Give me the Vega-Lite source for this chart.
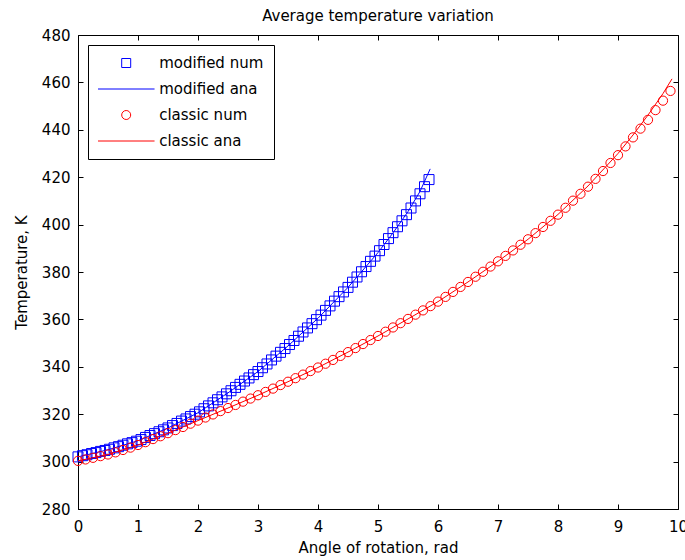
{
  "$schema": "https://vega.github.io/schema/vega-lite/v6.json",
  "width": 600,
  "height": 474,
  "autosize": {"type": "none"},
  "padding": {"left": 78, "top": 35, "right": 7, "bottom": 51},
  "background": "white",
  "title": {"text": "Average temperature variation", "font": "DejaVu Sans", "fontSize": 15, "fontWeight": "normal", "color": "black", "offset": 4},
  "config": {
    "view": {"stroke": null},
    "axis": {"domainColor": "black", "tickColor": "black", "tickSize": -5, "labelFont": "DejaVu Sans", "labelFontSize": 15, "labelColor": "black", "titleFont": "DejaVu Sans", "titleFontSize": 15, "titleFontWeight": "normal", "titleColor": "black", "grid": false, "labelFlush": false, "labelOverlap": false, "domainWidth": 1, "tickWidth": 1},
    "legend": {"orient": "top-left", "offset": 10, "strokeColor": "black", "fillColor": "white", "padding": 10, "symbolSize": 81, "symbolOffset": 20.7, "labelOffset": 25.5, "clipHeight": 16, "rowPadding": 10, "labelFont": "DejaVu Sans", "labelFontSize": 15, "labelColor": "black", "symbolStrokeWidth": 1}
  },
  "datasets": {
    "mod_num": [
      {"a":0,"t":302.0},{"a":0.075,"t":302.5},{"a":0.15,"t":302.9},{"a":0.225,"t":303.4},{"a":0.3,"t":303.8},{"a":0.375,"t":304.3},{"a":0.45,"t":304.7},{"a":0.525,"t":305.2},{"a":0.6,"t":305.8},{"a":0.675,"t":306.3},{"a":0.75,"t":306.9},{"a":0.825,"t":307.5},{"a":0.9,"t":308.0},{"a":0.975,"t":308.6},{"a":1.05,"t":309.3},{"a":1.125,"t":310.2},{"a":1.2,"t":311.0},{"a":1.275,"t":311.8},{"a":1.35,"t":312.6},{"a":1.425,"t":313.4},{"a":1.5,"t":314.2},{"a":1.575,"t":315.2},{"a":1.65,"t":316.1},{"a":1.725,"t":317.1},{"a":1.8,"t":318.0},{"a":1.875,"t":319.0},{"a":1.95,"t":320.0},{"a":2.025,"t":321.0},{"a":2.1,"t":322.3},{"a":2.175,"t":323.5},{"a":2.25,"t":324.8},{"a":2.325,"t":326.1},{"a":2.4,"t":327.3},{"a":2.475,"t":328.6},{"a":2.55,"t":329.9},{"a":2.625,"t":331.3},{"a":2.7,"t":332.6},{"a":2.775,"t":334.0},{"a":2.85,"t":335.3},{"a":2.925,"t":336.7},{"a":3.0,"t":338.0},{"a":3.075,"t":339.6},{"a":3.15,"t":341.2},{"a":3.225,"t":342.9},{"a":3.3,"t":344.5},{"a":3.375,"t":346.1},{"a":3.45,"t":347.7},{"a":3.525,"t":349.4},{"a":3.6,"t":351.1},{"a":3.675,"t":352.9},{"a":3.75,"t":354.7},{"a":3.825,"t":356.4},{"a":3.9,"t":358.2},{"a":3.975,"t":359.9},{"a":4.05,"t":361.8},{"a":4.125,"t":363.8},{"a":4.2,"t":365.7},{"a":4.275,"t":367.7},{"a":4.35,"t":369.6},{"a":4.425,"t":371.6},{"a":4.5,"t":373.5},{"a":4.575,"t":375.7},{"a":4.65,"t":377.9},{"a":4.725,"t":380.1},{"a":4.8,"t":382.3},{"a":4.875,"t":384.5},{"a":4.95,"t":386.7},{"a":5.025,"t":389.0},{"a":5.1,"t":391.6},{"a":5.175,"t":394.1},{"a":5.25,"t":396.6},{"a":5.325,"t":399.1},{"a":5.4,"t":401.6},{"a":5.475,"t":404.2},{"a":5.55,"t":407.0},{"a":5.625,"t":410.0},{"a":5.7,"t":413.0},{"a":5.775,"t":416.0},{"a":5.85,"t":419.0}
    ],
    "mod_ana": [
      {"a":0,"t":302.0},{"a":0.5,"t":305.0},{"a":1,"t":308.8},{"a":1.5,"t":314.2},{"a":2,"t":320.6},{"a":2.5,"t":329.0},{"a":3,"t":338.0},{"a":3.5,"t":348.8},{"a":4,"t":360.5},{"a":4.5,"t":373.5},{"a":5,"t":388.2},{"a":5.25,"t":396.5},{"a":5.5,"t":405.5},{"a":5.7,"t":414.0},{"a":5.87,"t":423.5}
    ],
    "cls_num": [
      {"a":0,"t":300.3},{"a":0.125,"t":300.9},{"a":0.25,"t":301.6},{"a":0.375,"t":302.3},{"a":0.5,"t":303.0},{"a":0.625,"t":303.9},{"a":0.75,"t":304.9},{"a":0.875,"t":305.9},{"a":1.0,"t":307.0},{"a":1.125,"t":308.2},{"a":1.25,"t":309.5},{"a":1.375,"t":310.7},{"a":1.5,"t":312.0},{"a":1.625,"t":313.3},{"a":1.75,"t":314.6},{"a":1.875,"t":316.0},{"a":2.0,"t":317.3},{"a":2.125,"t":318.6},{"a":2.25,"t":319.9},{"a":2.375,"t":321.3},{"a":2.5,"t":322.6},{"a":2.625,"t":323.9},{"a":2.75,"t":325.3},{"a":2.875,"t":326.6},{"a":3.0,"t":328.0},{"a":3.125,"t":329.4},{"a":3.25,"t":330.8},{"a":3.375,"t":332.3},{"a":3.5,"t":333.7},{"a":3.625,"t":335.2},{"a":3.75,"t":336.7},{"a":3.875,"t":338.2},{"a":4.0,"t":339.7},{"a":4.125,"t":341.3},{"a":4.25,"t":342.9},{"a":4.375,"t":344.6},{"a":4.5,"t":346.2},{"a":4.625,"t":347.9},{"a":4.75,"t":349.6},{"a":4.875,"t":351.3},{"a":5.0,"t":353.0},{"a":5.125,"t":354.8},{"a":5.25,"t":356.6},{"a":5.375,"t":358.4},{"a":5.5,"t":360.2},{"a":5.625,"t":362.0},{"a":5.75,"t":363.8},{"a":5.875,"t":365.6},{"a":6.0,"t":367.5},{"a":6.125,"t":369.5},{"a":6.25,"t":371.6},{"a":6.375,"t":373.7},{"a":6.5,"t":375.8},{"a":6.625,"t":378.0},{"a":6.75,"t":380.1},{"a":6.875,"t":382.3},{"a":7.0,"t":384.5},{"a":7.125,"t":386.8},{"a":7.25,"t":389.1},{"a":7.375,"t":391.5},{"a":7.5,"t":393.8},{"a":7.625,"t":396.4},{"a":7.75,"t":399.0},{"a":7.875,"t":401.6},{"a":8.0,"t":404.2},{"a":8.125,"t":407.1},{"a":8.25,"t":410.1},{"a":8.375,"t":413.0},{"a":8.5,"t":416.0},{"a":8.625,"t":419.3},{"a":8.75,"t":422.6},{"a":8.875,"t":426.0},{"a":9.0,"t":429.3},{"a":9.125,"t":433.0},{"a":9.25,"t":436.8},{"a":9.375,"t":440.5},{"a":9.5,"t":444.2},{"a":9.625,"t":448.3},{"a":9.75,"t":452.3},{"a":9.875,"t":456.4}
    ],
    "cls_ana": [
      {"a":0,"t":300.3},{"a":0.5,"t":303.0},{"a":1,"t":307.0},{"a":1.5,"t":312.0},{"a":2,"t":317.3},{"a":2.5,"t":322.6},{"a":3,"t":328.0},{"a":3.5,"t":333.7},{"a":4,"t":339.7},{"a":4.5,"t":346.2},{"a":5,"t":353.0},{"a":5.5,"t":360.2},{"a":6,"t":367.5},{"a":6.5,"t":375.8},{"a":7,"t":384.5},{"a":7.5,"t":393.8},{"a":8,"t":404.3},{"a":8.5,"t":416.3},{"a":9,"t":430.0},{"a":9.25,"t":437.8},{"a":9.5,"t":446.2},{"a":9.75,"t":455.3},{"a":9.9,"t":461.5}
    ]
  },
  "layer": [
    {
      "data": {"name": "mod_num"},
      "mark": {"type": "point", "filled": false, "strokeWidth": 1, "size": 100, "opacity": 1},
      "encoding": {
        "x": {"field": "a", "type": "quantitative", "scale": {"domain": [0, 10], "nice": false, "zero": false},
              "axis": {"orient": "bottom", "title": "Angle of rotation, rad", "values": [0,1,2,3,4,5,6,7,8,9,10], "format": "d", "labelPadding": 15, "titlePadding": 6}},
        "y": {"field": "t", "type": "quantitative", "scale": {"domain": [280, 480], "nice": false, "zero": false},
              "axis": {"orient": "left", "title": "Temperature, K", "values": [280,300,320,340,360,380,400,420,440,460,480], "format": "d", "labelPadding": 13, "titlePadding": 12}},
        "color": {"datum": "modified num", "type": "nominal",
                  "scale": {"domain": ["modified num", "modified ana", "classic num", "classic ana"], "range": ["#0000ff", "#0000ff", "#ff0000", "#ff0000"]},
                  "legend": {"title": null}},
        "shape": {"datum": "modified num", "type": "nominal",
                  "scale": {"domain": ["modified num", "modified ana", "classic num", "classic ana"], "range": ["square", "M-6.3,0H6.3", "circle", "M-6.3,0H6.3"]},
                  "legend": {"title": null}}
      }
    },
    {
      "data": {"name": "mod_ana"},
      "mark": {"type": "line", "strokeWidth": 1},
      "encoding": {
        "x": {"field": "a", "type": "quantitative", "axis": null},
        "y": {"field": "t", "type": "quantitative", "axis": null},
        "color": {"datum": "modified ana", "type": "nominal"}
      }
    },
    {
      "data": {"name": "cls_num"},
      "mark": {"type": "point", "filled": false, "strokeWidth": 1, "size": 85, "opacity": 1},
      "encoding": {
        "x": {"field": "a", "type": "quantitative", "axis": null},
        "y": {"field": "t", "type": "quantitative", "axis": null},
        "color": {"datum": "classic num", "type": "nominal"},
        "shape": {"datum": "classic num", "type": "nominal"}
      }
    },
    {
      "data": {"name": "cls_ana"},
      "mark": {"type": "line", "strokeWidth": 1},
      "encoding": {
        "x": {"field": "a", "type": "quantitative", "axis": {"orient": "top", "labels": false, "title": null, "values": [0,1,2,3,4,5,6,7,8,9,10]}},
        "y": {"field": "t", "type": "quantitative", "axis": {"orient": "right", "labels": false, "title": null, "values": [280,300,320,340,360,380,400,420,440,460,480]}},
        "color": {"datum": "classic ana", "type": "nominal"}
      }
    }
  ],
  "resolve": {"axis": {"x": "independent", "y": "independent"}}
}
